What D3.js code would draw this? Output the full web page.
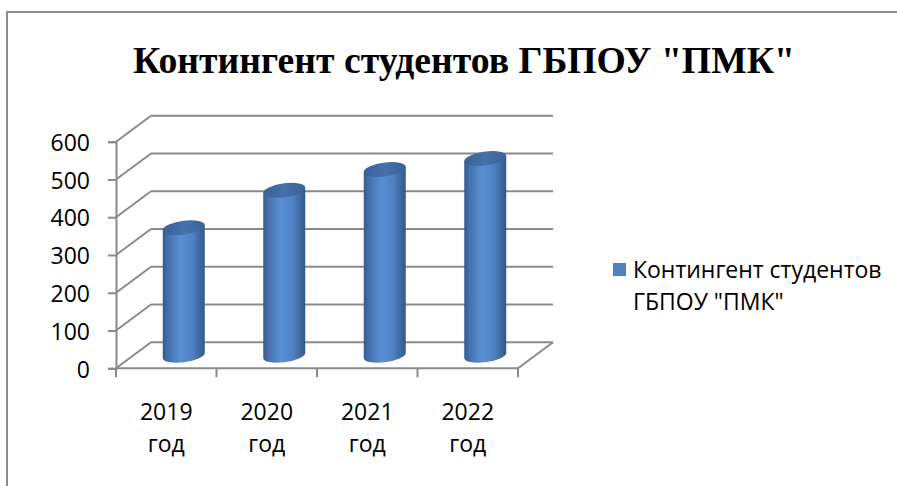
<!DOCTYPE html>
<html>
<head>
<meta charset="utf-8">
<script src="https://cdn.jsdelivr.net/npm/d3@7"></script>
<style>
  body { margin: 0; background: #fff; }
  svg { display: block; }
</style>
</head>
<body>
<svg id="chart" width="897" height="486"></svg>
<script>
// data
var years = ["2019", "2020", "2021", "2022"];
var yearSuffix = "год";
var students = [338, 437, 492, 521];
var yTicks = [0, 100, 200, 300, 400, 500, 600];
var chartTitle = 'Контингент студентов ГБПОУ "ПМК"';
var legendLines = ["Контингент студентов", 'ГБПОУ "ПМК"'];

var svg = d3.select("#chart")
  , labelFont = "'Open Sans', 'Noto Sans', sans-serif"
  , gridColor = "#8a8a8a"
  , dx = 35   // depth offset of the back wall
  , dy = -26
  , barR = 21 // cylinder half width
  , barRy = 7
  , tilt = -7;

var x = d3.scaleBand().domain(years).range([116, 518]);
var y = d3.scaleLinear().domain([0, 600]).range([368.3, 141.7]);

// gradient for the cylinder body
var defs = svg.append("defs");
var grad = defs.append("linearGradient").attr("id", "cyl").attr("x1", 0).attr("x2", 1).attr("y1", 0).attr("y2", 0);
[[0, "#365a8e"], [0.12, "#4470ad"], [0.42, "#5a8ed3"], [0.7, "#4f82c4"], [1, "#34578a"]].forEach(function(s){
  grad.append("stop").attr("offset", s[0]).attr("stop-color", s[1]);
});
var gradTop = defs.append("linearGradient").attr("id", "cyltop").attr("x1", 0).attr("x2", 1).attr("y1", 0).attr("y2", 0);
[[0, "#3a6198"], [0.5, "#4670ab"], [1, "#3b6297"]].forEach(function(s){
  gradTop.append("stop").attr("offset", s[0]).attr("stop-color", s[1]);
});

// outer frame (left and top edges only are visible)
svg.append("path")
  .attr("d", "M7,486 L7,12 L897,12")
  .attr("fill", "none").attr("stroke", "#8c8c8c").attr("stroke-width", 2);

// title, sized to span the same width as the original
var title = svg.append("text")
  .attr("x", 464).attr("y", 73)
  .attr("text-anchor", "middle")
  .style("font-family", "'Liberation Serif', 'Times New Roman', serif")
  .style("font-weight", "bold")
  .style("font-size", "40px")
  .text(chartTitle);
var tw = title.node().getComputedTextLength();
title.style("font-size", Math.min(44, 40 * 662 / tw) + "px");

var x0 = x.range()[0], x1 = x.range()[1];

// back wall gridlines and side wall diagonals
var grid = svg.append("g").attr("stroke", gridColor).attr("stroke-width", 2).attr("fill", "none");
grid.selectAll(".back")
  .data(yTicks)
 .enter().append("line")
  .attr("x1", x0 + dx).attr("x2", x1 + dx)
  .attr("y1", d => y(d) + dy).attr("y2", d => y(d) + dy);
grid.selectAll(".side")
  .data(yTicks)
 .enter().append("line")
  .attr("x1", x0).attr("x2", x0 + dx)
  .attr("y1", d => y(d)).attr("y2", d => y(d) + dy);

// floor front edge and right edge
grid.append("line").attr("x1", x0).attr("x2", x1).attr("y1", y(0)).attr("y2", y(0));
grid.append("line").attr("x1", x1).attr("x2", x1 + dx).attr("y1", y(0)).attr("y2", y(0) + dy);

// value axis
var yAxis = svg.append("g")
  .attr("transform", "translate(" + x0 + ",0)")
  .call(d3.axisLeft(y).tickValues(yTicks).tickSize(8).tickPadding(18).tickFormat(d3.format("d")));
yAxis.select(".domain").attr("stroke", gridColor).attr("stroke-width", 2);
yAxis.selectAll(".tick line").attr("stroke", gridColor).attr("stroke-width", 2);
yAxis.selectAll(".tick text")
  .attr("dy", "0.38em")
  .style("font-family", labelFont).style("font-size", "23px").attr("fill", "#000");

// category ticks at band edges
var edges = years.map(d => x(d)).concat([x1]);
grid.selectAll(".xtick")
  .data(edges)
 .enter().append("line")
  .attr("x1", d => d).attr("x2", d => d)
  .attr("y1", y(0)).attr("y2", y(0) + 9);

// category labels
var catLabels = svg.selectAll(".cat")
  .data(years)
 .enter().append("text")
  .attr("text-anchor", "middle")
  .style("font-family", labelFont).style("font-size", "23px");
catLabels.append("tspan").attr("x", d => x(d) + x.bandwidth() / 2).attr("y", 420).text(d => d);
catLabels.append("tspan").attr("x", d => x(d) + x.bandwidth() / 2).attr("y", 452).text(yearSuffix);

// cylinders, set at half depth
var bars = svg.selectAll(".bar")
  .data(years)
 .enter().append("g")
  .attr("transform", d => "translate(" + (x(d) + x.bandwidth() / 2 + dx / 2) + ",0) skewY(" + tilt + ")");

bars.append("path")
  .attr("d", function(d, i){
    var yb = y(0) + dy / 2, yt = y(students[i]) + dy / 2;
    return "M" + (-barR) + "," + yt + " L" + (-barR) + "," + yb +
      " A" + barR + "," + barRy + " 0 0 0 " + barR + "," + yb +
      " L" + barR + "," + yt + " Z";
  })
  .attr("fill", "url(#cyl)");

bars.append("ellipse")
  .attr("cx", 0)
  .attr("cy", (d, i) => y(students[i]) + dy / 2)
  .attr("rx", barR).attr("ry", barRy)
  .attr("fill", "url(#cyltop)");

// legend
svg.append("rect")
  .attr("x", 613).attr("y", 263).attr("width", 13).attr("height", 13)
  .attr("fill", "#4f81bd");
svg.append("text")
  .style("font-family", labelFont).style("font-size", "23px")
  .selectAll("tspan")
  .data(legendLines)
 .enter().append("tspan")
  .attr("x", 633)
  .attr("y", (d, i) => 278 + i * 32)
  .text(d => d);
</script>
</body>
</html>
